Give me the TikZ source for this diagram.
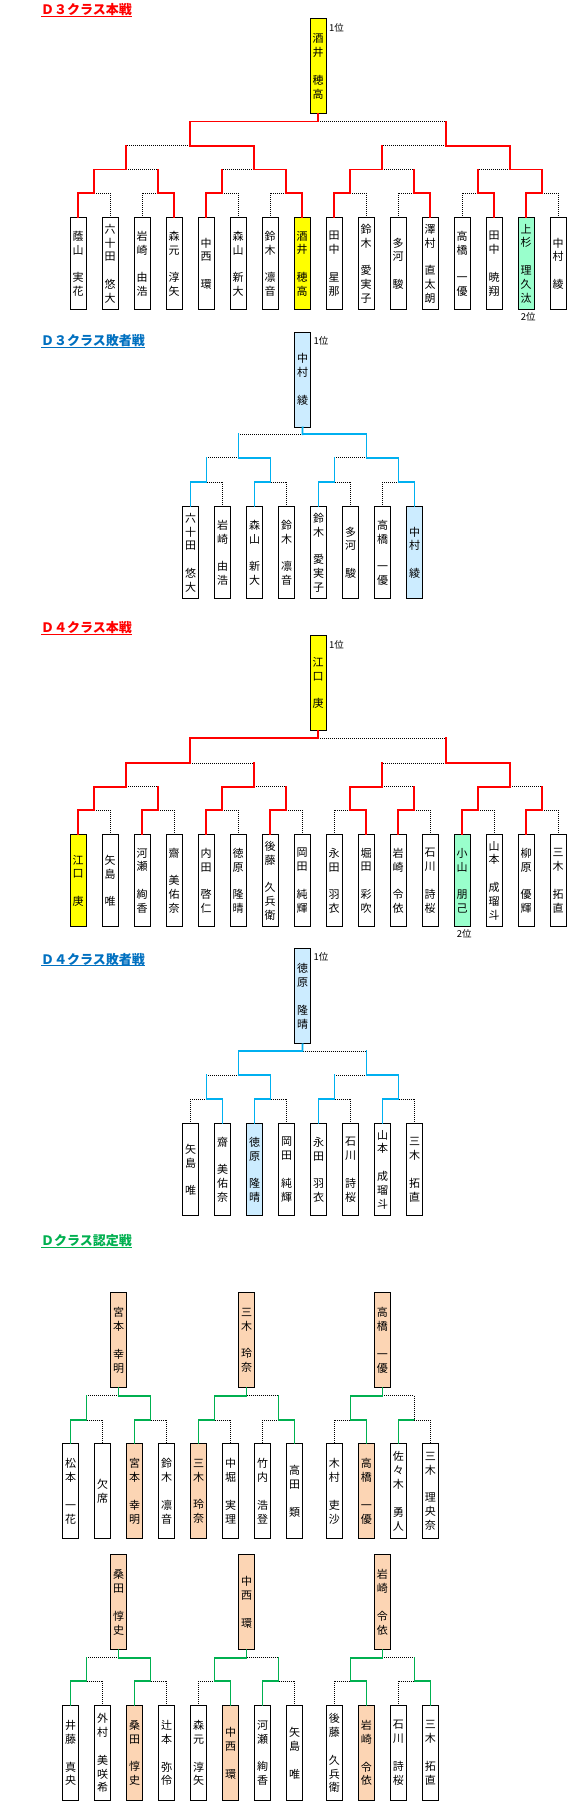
\documentclass[tikz,border=0pt]{standalone}
\usepackage{fontspec}
\newfontfamily\jp{Noto Sans CJK JP}
\definecolor{redc}{HTML}{FF0000}
\definecolor{bluel}{HTML}{00B0F0}
\definecolor{bluet}{HTML}{0070C0}
\definecolor{greenc}{HTML}{00B050}
\definecolor{yel}{HTML}{FFFF00}
\definecolor{grn}{HTML}{99FFCC}
\definecolor{lbl}{HTML}{CCECFF}
\definecolor{pch}{HTML}{FCD5B4}
\newcommand\nmfont{\jp\fontsize{11}{13.9}\selectfont}
\newcommand\gapr{\\[13.9pt]}
% match: name, x, y, childA, childB, Lh, Rh, Lv, Rv
\newcommand\M[9]{%
  \coordinate (#1) at (#2,#3);
  \draw[#8] (#4 |- #1) -- (#4);
  \draw[#9] (#5 |- #1) -- (#5);
  \draw[#6] (#1) -- (#4 |- #1);
  \draw[#7] (#1) -- (#5 |- #1);
}
\begin{document}
\begin{tikzpicture}[x=1pt,y=-1pt,
  ls/.style={draw=black,line width=0.9pt,dash pattern=on 1pt off 1pt},
  wn/.style={draw=redc,line width=1.8pt,line cap=rect},
  leaf/.style={draw=black,line width=0.9pt,minimum width=15.5pt,minimum height=92pt,inner sep=0pt,anchor=north,font=\nmfont,align=center,fill=white},
  tbox/.style={leaf,minimum height=95pt},
  dleaf/.style={leaf,minimum height=95pt},
  ttl/.style={anchor=base west,inner sep=0pt,font=\jp\bfseries\fontsize{13}{15}\selectfont},
  rk/.style={anchor=west,inner sep=0pt,font=\jp\fontsize{9.5}{11}\selectfont}]
\fill[white] (0,0) rectangle (570,1812);
\path[use as bounding box] (0,0) rectangle (570,1812);

% ================= D3 main =================
\node[ttl,text=redc] (ta) at (41,14.5) {Ｄ３クラス本戦};
\draw[redc,line width=1pt] ([yshift=-1.8pt]ta.base west) -- ([yshift=-1.8pt]ta.base east);
\node[tbox,fill=yel] (aT) at (318.2,18.3) {酒\\井\gapr 穂\\高};
\node[rk] (a1st) at (329,28) {1位};
\node[leaf] (a0) at (78.2,217.3) {蔭\\山\gapr 実\\花};
\node[leaf] (a1) at (110.2,217.3) {六\\十\\田\gapr 悠\\大};
\node[leaf] (a2) at (142.2,217.3) {岩\\崎\gapr 由\\浩};
\node[leaf] (a3) at (174.2,217.3) {森\\元\gapr 淳\\矢};
\node[leaf] (a4) at (206.2,217.3) {中\\西\gapr 環};
\node[leaf] (a5) at (238.2,217.3) {森\\山\gapr 新\\大};
\node[leaf] (a6) at (270.2,217.3) {鈴\\木\gapr 凛\\音};
\node[leaf,fill=yel] (a7) at (302.2,217.3) {酒\\井\gapr 穂\\高};
\node[leaf] (a8) at (334.2,217.3) {田\\中\gapr 星\\那};
\node[leaf] (a9) at (366.2,217.3) {鈴\\木\gapr 愛\\実\\子};
\node[leaf] (a10) at (398.2,217.3) {多\\河\gapr 駿};
\node[leaf] (a11) at (430.2,217.3) {澤\\村\gapr 直\\太\\朗};
\node[leaf] (a12) at (462.2,217.3) {高\\橋\gapr 一\\優};
\node[leaf] (a13) at (494.2,217.3) {田\\中\gapr 暁\\翔};
\node[leaf,fill=grn] (a14) at (526.2,217.3) {上\\杉\gapr 理\\久\\汰};
\node[leaf] (a15) at (558.2,217.3) {中\\村\gapr 綾};
\node[rk,anchor=center] (a2nd) at (528.3,316.7) {2位};
\M{aR0}{94.2}{193}{a0.north}{a1.north}{wn}{ls}{wn}{ls}
\M{aR1}{158.2}{193}{a2.north}{a3.north}{ls}{wn}{ls}{wn}
\M{aR2}{222.2}{193}{a4.north}{a5.north}{wn}{ls}{wn}{ls}
\M{aR3}{286.2}{193}{a6.north}{a7.north}{ls}{wn}{ls}{wn}
\M{aR4}{350.2}{193}{a8.north}{a9.north}{wn}{ls}{wn}{ls}
\M{aR5}{414.2}{193}{a10.north}{a11.north}{ls}{wn}{ls}{wn}
\M{aR6}{478.2}{193}{a12.north}{a13.north}{ls}{wn}{ls}{wn}
\M{aR7}{542.2}{193}{a14.north}{a15.north}{wn}{ls}{wn}{ls}
\M{aQ0}{126.2}{169.5}{aR0}{aR1}{wn}{ls}{wn}{wn}
\M{aQ1}{254.2}{169.5}{aR2}{aR3}{ls}{wn}{wn}{wn}
\M{aQ2}{382.2}{169.5}{aR4}{aR5}{wn}{ls}{wn}{wn}
\M{aQ3}{510.2}{169.5}{aR6}{aR7}{ls}{wn}{wn}{wn}
\M{aS0}{190.2}{145.7}{aQ0}{aQ1}{ls}{wn}{wn}{wn}
\M{aS1}{446.2}{145.7}{aQ2}{aQ3}{ls}{wn}{wn}{wn}
\M{aF}{318.2}{121.5}{aS0}{aS1}{wn}{ls}{wn}{wn}
\draw[wn] (aF) -- (aT.south);

% ================= D3 loser =================
\begin{scope}[wn/.style={draw=bluel,line width=1.8pt,line cap=rect}]
\node[ttl,text=bluet] (tb) at (41,345.8) {Ｄ３クラス敗者戦};
\draw[bluet,line width=1pt] ([yshift=-1.8pt]tb.base west) -- ([yshift=-1.8pt]tb.base east);
\node[tbox,fill=lbl] (bT) at (302.6,331.7) {中\\村\gapr 綾};
\node[rk] (b1st) at (313.3,340.7) {1位};
\node[leaf] (b0) at (190.5,506.3) {六\\十\\田\gapr 悠\\大};
\node[leaf] (b1) at (222.5,506.3) {岩\\崎\gapr 由\\浩};
\node[leaf] (b2) at (254.5,506.3) {森\\山\gapr 新\\大};
\node[leaf] (b3) at (286.5,506.3) {鈴\\木\gapr 凛\\音};
\node[leaf] (b4) at (318.5,506.3) {鈴\\木\gapr 愛\\実\\子};
\node[leaf] (b5) at (350.5,506.3) {多\\河\gapr 駿};
\node[leaf] (b6) at (382.5,506.3) {高\\橋\gapr 一\\優};
\node[leaf,fill=lbl] (b7) at (414.5,506.3) {中\\村\gapr 綾};
\M{bR0}{206.5}{482.3}{b0.north}{b1.north}{wn}{ls}{wn}{ls}
\M{bR1}{270.5}{482.3}{b2.north}{b3.north}{wn}{ls}{wn}{ls}
\M{bR2}{334.5}{482.3}{b4.north}{b5.north}{wn}{ls}{wn}{ls}
\M{bR3}{398.5}{482.3}{b6.north}{b7.north}{ls}{wn}{ls}{wn}
\M{bS0}{238.5}{457.7}{bR0}{bR1}{ls}{wn}{wn}{wn}
\M{bS1}{366.5}{457.7}{bR2}{bR3}{ls}{wn}{wn}{wn}
\M{bF}{302.5}{434.3}{bS0}{bS1}{ls}{wn}{wn}{wn}
\draw[wn] (bF) -- (bT.south);
\end{scope}

% ================= D4 main =================
\node[ttl,text=redc] (tc) at (41,632.3) {Ｄ４クラス本戦};
\draw[redc,line width=1pt] ([yshift=-1.8pt]tc.base west) -- ([yshift=-1.8pt]tc.base east);
\node[tbox,fill=yel] (cT) at (318.2,635) {江\\口\gapr 庚};
\node[rk] (c1st) at (329,645) {1位};
\node[leaf,fill=yel] (c0) at (78.2,834.3) {江\\口\gapr 庚};
\node[leaf] (c1) at (110.2,834.3) {矢\\島\gapr 唯};
\node[leaf] (c2) at (142.2,834.3) {河\\瀬\gapr 絢\\香};
\node[leaf] (c3) at (174.2,834.3) {齋\gapr 美\\佑\\奈};
\node[leaf] (c4) at (206.2,834.3) {内\\田\gapr 啓\\仁};
\node[leaf] (c5) at (238.2,834.3) {徳\\原\gapr 隆\\晴};
\node[leaf] (c6) at (270.2,834.3) {後\\藤\gapr 久\\兵\\衛};
\node[leaf] (c7) at (302.2,834.3) {岡\\田\gapr 純\\輝};
\node[leaf] (c8) at (334.2,834.3) {永\\田\gapr 羽\\衣};
\node[leaf] (c9) at (366.2,834.3) {堀\\田\gapr 彩\\吹};
\node[leaf] (c10) at (398.2,834.3) {岩\\崎\gapr 令\\依};
\node[leaf] (c11) at (430.2,834.3) {石\\川\gapr 詩\\桜};
\node[leaf,fill=grn] (c12) at (462.2,834.3) {小\\山\gapr 朋\\己};
\node[leaf] (c13) at (494.2,834.3) {山\\本\gapr 成\\瑠\\斗};
\node[leaf] (c14) at (526.2,834.3) {柳\\原\gapr 優\\輝};
\node[leaf] (c15) at (558.2,834.3) {三\\木\gapr 拓\\直};
\node[rk,anchor=center] (c2nd) at (464.3,934) {2位};
\M{cR0}{94.2}{810}{c0.north}{c1.north}{wn}{ls}{wn}{ls}
\M{cR1}{158.2}{810}{c2.north}{c3.north}{wn}{ls}{wn}{ls}
\M{cR2}{222.2}{810}{c4.north}{c5.north}{wn}{ls}{wn}{ls}
\M{cR3}{286.2}{810}{c6.north}{c7.north}{wn}{ls}{wn}{ls}
\M{cR4}{350.2}{810}{c8.north}{c9.north}{ls}{wn}{ls}{wn}
\M{cR5}{414.2}{810}{c10.north}{c11.north}{wn}{ls}{wn}{ls}
\M{cR6}{478.2}{810}{c12.north}{c13.north}{wn}{ls}{wn}{ls}
\M{cR7}{542.2}{810}{c14.north}{c15.north}{wn}{ls}{wn}{ls}
\M{cQ0}{126.2}{786.7}{cR0}{cR1}{wn}{ls}{wn}{wn}
\M{cQ1}{254.2}{786.7}{cR2}{cR3}{wn}{ls}{wn}{wn}
\M{cQ2}{382.2}{786.7}{cR4}{cR5}{wn}{ls}{wn}{wn}
\M{cQ3}{510.2}{786.7}{cR6}{cR7}{wn}{ls}{wn}{wn}
\M{cS0}{190.2}{763}{cQ0}{cQ1}{wn}{ls}{wn}{wn}
\M{cS1}{446.2}{763}{cQ2}{cQ3}{ls}{wn}{wn}{wn}
\M{cF}{318.2}{738.3}{cS0}{cS1}{wn}{ls}{wn}{wn}
\draw[wn] (cF) -- (cT.south);

% ================= D4 loser =================
\begin{scope}[wn/.style={draw=bluel,line width=1.8pt,line cap=rect}]
\node[ttl,text=bluet] (td) at (41,964) {Ｄ４クラス敗者戦};
\draw[bluet,line width=1pt] ([yshift=-1.8pt]td.base west) -- ([yshift=-1.8pt]td.base east);
\node[tbox,fill=lbl] (dT) at (302.6,948.3) {徳\\原\gapr 隆\\晴};
\node[rk] (d1st) at (313.3,957.3) {1位};
\node[leaf] (d0) at (190.5,1123.3) {矢\\島\gapr 唯};
\node[leaf] (d1) at (222.5,1123.3) {齋\gapr 美\\佑\\奈};
\node[leaf,fill=lbl] (d2) at (254.5,1123.3) {徳\\原\gapr 隆\\晴};
\node[leaf] (d3) at (286.5,1123.3) {岡\\田\gapr 純\\輝};
\node[leaf] (d4) at (318.5,1123.3) {永\\田\gapr 羽\\衣};
\node[leaf] (d5) at (350.5,1123.3) {石\\川\gapr 詩\\桜};
\node[leaf] (d6) at (382.5,1123.3) {山\\本\gapr 成\\瑠\\斗};
\node[leaf] (d7) at (414.5,1123.3) {三\\木\gapr 拓\\直};
\M{dR0}{206.5}{1099.3}{d0.north}{d1.north}{ls}{wn}{ls}{wn}
\M{dR1}{270.5}{1099.3}{d2.north}{d3.north}{wn}{ls}{wn}{ls}
\M{dR2}{334.5}{1099.3}{d4.north}{d5.north}{wn}{ls}{wn}{ls}
\M{dR3}{398.5}{1099.3}{d6.north}{d7.north}{wn}{ls}{wn}{ls}
\M{dS0}{238.5}{1075}{dR0}{dR1}{ls}{wn}{wn}{wn}
\M{dS1}{366.5}{1075}{dR2}{dR3}{ls}{wn}{wn}{wn}
\M{dF}{302.5}{1051}{dS0}{dS1}{wn}{ls}{wn}{wn}
\draw[wn] (dF) -- (dT.south);
\end{scope}

% ================= D class =================
\begin{scope}[wn/.style={draw=greenc,line width=1.8pt,line cap=rect}]
\node[ttl,text=greenc] (te) at (41,1245.5) {Ｄクラス認定戦};
\draw[greenc,line width=1pt] ([yshift=-1.8pt]te.base west) -- ([yshift=-1.8pt]te.base east);
% row 1
\node[tbox,fill=pch] (eAT) at (118.5,1292.3) {宮\\本\gapr 幸\\明};
\node[tbox,fill=pch] (eBT) at (246.5,1292.3) {三\\木\gapr 玲\\奈};
\node[tbox,fill=pch] (eCT) at (382.4,1292.3) {高\\橋\gapr 一\\優};
\node[dleaf] (eA0) at (70.5,1443.3) {松\\本\gapr 一\\花};
\node[dleaf] (eA1) at (102.5,1443.3) {欠\\席};
\node[dleaf,fill=pch] (eA2) at (134.5,1443.3) {宮\\本\gapr 幸\\明};
\node[dleaf] (eA3) at (166.5,1443.3) {鈴\\木\gapr 凛\\音};
\node[dleaf,fill=pch] (eB0) at (198.5,1443.3) {三\\木\gapr 玲\\奈};
\node[dleaf] (eB1) at (230.5,1443.3) {中\\堀\gapr 実\\理};
\node[dleaf] (eB2) at (262.5,1443.3) {竹\\内\gapr 浩\\登};
\node[dleaf] (eB3) at (294.5,1443.3) {高\\田\gapr 類};
\node[dleaf] (eC0) at (334.4,1443.3) {木\\村\gapr 吏\\沙};
\node[dleaf,fill=pch] (eC1) at (366.4,1443.3) {高\\橋\gapr 一\\優};
\node[dleaf] (eC2) at (398.4,1443.3) {佐\\々\\木\gapr 勇\\人};
\node[dleaf] (eC3) at (430.4,1443.3) {三\\木\gapr 理\\央\\奈};
\M{eAR0}{86.5}{1420}{eA0.north}{eA1.north}{wn}{ls}{wn}{ls}
\M{eAR1}{150.5}{1420}{eA2.north}{eA3.north}{wn}{ls}{wn}{ls}
\M{eAF}{118.5}{1395.7}{eAR0}{eAR1}{ls}{wn}{wn}{wn}
\draw[wn] (eAF) -- (eAT.south);
\M{eBR0}{214.5}{1420}{eB0.north}{eB1.north}{wn}{ls}{wn}{ls}
\M{eBR1}{278.5}{1420}{eB2.north}{eB3.north}{ls}{wn}{ls}{wn}
\M{eBF}{246.5}{1395.7}{eBR0}{eBR1}{wn}{ls}{wn}{wn}
\draw[wn] (eBF) -- (eBT.south);
\M{eCR0}{350.4}{1420}{eC0.north}{eC1.north}{ls}{wn}{ls}{wn}
\M{eCR1}{414.4}{1420}{eC2.north}{eC3.north}{wn}{ls}{wn}{ls}
\M{eCF}{382.4}{1395.7}{eCR0}{eCR1}{wn}{ls}{wn}{ls}
\draw[wn] (eCF) -- (eCT.south);
% row 2
\node[tbox,fill=pch] (fDT) at (118.5,1554.3) {桑\\田\gapr 惇\\史};
\node[tbox,fill=pch] (fET) at (246.5,1554.3) {中\\西\gapr 環};
\node[tbox,fill=pch] (fFT) at (382.4,1554.3) {岩\\崎\gapr 令\\依};
\node[dleaf] (fD0) at (70.5,1705) {井\\藤\gapr 真\\央};
\node[dleaf] (fD1) at (102.5,1705) {外\\村\gapr 美\\咲\\希};
\node[dleaf,fill=pch] (fD2) at (134.5,1705) {桑\\田\gapr 惇\\史};
\node[dleaf] (fD3) at (166.5,1705) {辻\\本\gapr 弥\\伶};
\node[dleaf] (fE0) at (198.5,1705) {森\\元\gapr 淳\\矢};
\node[dleaf,fill=pch] (fE1) at (230.5,1705) {中\\西\gapr 環};
\node[dleaf] (fE2) at (262.5,1705) {河\\瀬\gapr 絢\\香};
\node[dleaf] (fE3) at (294.5,1705) {矢\\島\gapr 唯};
\node[dleaf] (fF0) at (334.4,1705) {後\\藤\gapr 久\\兵\\衛};
\node[dleaf,fill=pch] (fF1) at (366.4,1705) {岩\\崎\gapr 令\\依};
\node[dleaf] (fF2) at (398.4,1705) {石\\川\gapr 詩\\桜};
\node[dleaf] (fF3) at (430.4,1705) {三\\木\gapr 拓\\直};
\M{fDR0}{86.5}{1681}{fD0.north}{fD1.north}{wn}{ls}{wn}{ls}
\M{fDR1}{150.5}{1681}{fD2.north}{fD3.north}{wn}{ls}{wn}{ls}
\M{fDF}{118.5}{1657.7}{fDR0}{fDR1}{ls}{wn}{wn}{wn}
\draw[wn] (fDF) -- (fDT.south);
\M{fER0}{214.5}{1681}{fE0.north}{fE1.north}{ls}{wn}{ls}{wn}
\M{fER1}{278.5}{1681}{fE2.north}{fE3.north}{wn}{ls}{wn}{ls}
\M{fEF}{246.5}{1657.7}{fER0}{fER1}{wn}{ls}{wn}{wn}
\draw[wn] (fEF) -- (fET.south);
\M{fFR0}{350.4}{1681}{fF0.north}{fF1.north}{ls}{wn}{ls}{wn}
\M{fFR1}{414.4}{1681}{fF2.north}{fF3.north}{ls}{wn}{ls}{wn}
\M{fFF}{382.4}{1657.7}{fFR0}{fFR1}{wn}{ls}{wn}{wn}
\draw[wn] (fFF) -- (fFT.south);
\end{scope}
\end{tikzpicture}
\end{document}
